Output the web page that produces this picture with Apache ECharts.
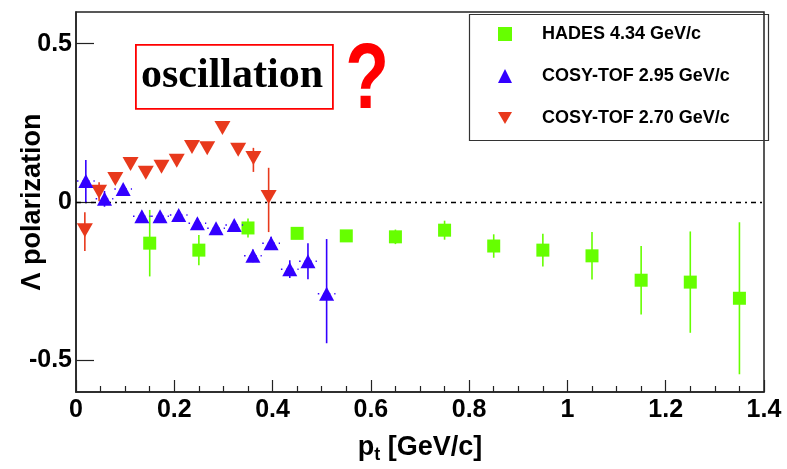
<!DOCTYPE html>
<html>
<head>
<meta charset="utf-8">
<script src="https://cdn.jsdelivr.net/npm/echarts@6/dist/echarts.min.js"></script>
<style>html,body{margin:0;padding:0;background:#fff}#c{width:787px;height:469px}</style>
</head>
<body>
<div id="c"></div>
<script>
// ---- data ----
const hadesX = [0.15, 0.25, 0.35, 0.45, 0.55, 0.65, 0.75, 0.85, 0.95, 1.05, 1.15, 1.25, 1.35];
const hadesY = [-0.130, -0.152, -0.082, -0.099, -0.107, -0.110, -0.089, -0.139, -0.152, -0.170, -0.247, -0.253, -0.304];
const hadesErr = [0.105, 0.048, 0.030, 0.013, 0.015, 0.023, 0.030, 0.037, 0.052, 0.075, 0.108, 0.160, 0.240];

const cosy295X = [0.020, 0.058, 0.096, 0.134, 0.171, 0.209, 0.247, 0.285, 0.322, 0.360, 0.397, 0.435, 0.472, 0.510];
const cosy295Y = [0.066, 0.010, 0.041, -0.045, -0.045, -0.041, -0.067, -0.083, -0.073, -0.170, -0.130, -0.212, -0.187, -0.290];
const cosy295ErrLo = [0.067, 0.025, 0.015, 0.015, 0.015, 0.015, 0.015, 0.015, 0.015, 0.020, 0.020, 0.028, 0.057, 0.156];
const cosy295ErrHi = [0.067, 0.025, 0.015, 0.015, 0.015, 0.015, 0.015, 0.015, 0.015, 0.020, 0.020, 0.028, 0.057, 0.173];
const cosy295XErr = [0.018, 0.018, 0.018, 0.018, 0.018, 0.018, 0.018, 0.018, 0.018, 0.018, 0.018, 0.018, 0.018, 0.018];

const cosy270X = [0.018, 0.047, 0.080, 0.111, 0.142, 0.174, 0.205, 0.236, 0.267, 0.298, 0.330, 0.361, 0.392];
const cosy270Y = [-0.089, 0.032, 0.073, 0.120, 0.092, 0.111, 0.130, 0.174, 0.170, 0.234, 0.165, 0.139, 0.016];
const cosy270ErrLo = [0.066, 0.030, 0.015, 0.015, 0.015, 0.015, 0.015, 0.015, 0.015, 0.015, 0.015, 0.044, 0.111];
const cosy270ErrHi = [0.057, 0.030, 0.015, 0.015, 0.015, 0.015, 0.015, 0.015, 0.015, 0.015, 0.015, 0.032, 0.092];

const xTicks = {min: 0, max: 1.4, interval: 0.2};
const yRange = {min: -0.6, max: 0.6};
const yTickValues = [-0.5, 0, 0.5];
const zeroLine = [0];

const names = ['HADES 4.34 GeV/c', 'COSY-TOF 2.95 GeV/c', 'COSY-TOF 2.70 GeV/c'];
const colors = {green: '#66ff00', blue: '#3300ff', red: '#e8391c'};

// ---- build ----
const zip = (xs, ys) => xs.map((x, i) => [x, ys[i]]);
const errData = (xs, ys, lo, hi) => xs.map((x, i) => [x, ys[i], lo[i], hi[i]]);

function vErr(color) {
  return function (params, api) {
    const x = api.value(0), y = api.value(1), lo = api.value(2), hi = api.value(3);
    const a = api.coord([x, y - lo]), b = api.coord([x, y + hi]);
    return {type: 'line', shape: {x1: a[0], y1: a[1], x2: b[0], y2: b[1]},
            style: {stroke: color, lineWidth: 1.6}};
  };
}
function hErr(color) {
  return function (params, api) {
    const x = api.value(0), y = api.value(1), d = api.value(2);
    const a = api.coord([x - d, y]), b = api.coord([x + d, y]);
    return {type: 'line', shape: {x1: a[0], y1: a[1], x2: b[0], y2: b[1]},
            style: {stroke: color, lineWidth: 1.5, lineDash: [1.5, 4]}};
  };
}
function zeroRender(params, api) {
  const y = api.value(0);
  const a = api.coord([xTicks.min, y]), b = api.coord([xTicks.max, y]);
  return {type: 'line', shape: {x1: a[0], y1: Math.round(a[1]) + 0.5, x2: b[0], y2: Math.round(b[1]) + 0.5},
          style: {stroke: '#000', lineWidth: 1.6, lineDash: [5, 4, 2, 4]}};
}

const downTri = 'path://M0,0L20,0L10,17Z';

const chart = echarts.init(document.getElementById('c'));
chart.setOption({
  animation: false,
  backgroundColor: '#fff',
  grid: {left: 76, right: 23, top: 12, bottom: 77, outerBoundsMode: 'none', containLabel: false,
         show: true, borderColor: '#222', borderWidth: 1.5},
  xAxis: {
    type: 'value', min: xTicks.min, max: xTicks.max, interval: xTicks.interval,
    axisLine: {onZero: false, lineStyle: {color: '#222', width: 1.5}},
    axisTick: {inside: true, length: 12, lineStyle: {color: '#222', width: 1.2}},
    minorTick: {show: true, splitNumber: 4, length: 6, lineStyle: {color: '#222', width: 1.2}},
    splitLine: {show: false},
    axisLabel: {color: '#000', fontFamily: 'Liberation Sans', fontWeight: 'bold', fontSize: 25, margin: 6,
                formatter: v => String(Math.round(v * 10) / 10)},
    name: '{p|p}{s|t}{p| [GeV/c]}',
    nameLocation: 'middle', nameGap: 42, nameMoveOverlap: false,
    nameTextStyle: {
      rich: {
        p: {fontFamily: 'Liberation Sans', fontWeight: 'bold', fontSize: 27, color: '#000', lineHeight: 30, verticalAlign: 'top'},
        s: {fontFamily: 'Liberation Sans', fontWeight: 'bold', fontSize: 18, color: '#000', lineHeight: 8, verticalAlign: 'bottom'}
      }
    }
  },
  yAxis: {
    type: 'value', min: yRange.min, max: yRange.max,
    axisLine: {onZero: false, lineStyle: {color: '#222', width: 1.5}},
    axisTick: {inside: true, length: 18, customValues: yTickValues, lineStyle: {color: '#222', width: 1.2}},
    splitLine: {show: false},
    axisLabel: {color: '#000', fontFamily: 'Liberation Sans', fontWeight: 'bold', fontSize: 25, margin: 4,
                customValues: yTickValues, formatter: v => String(v)},
    name: 'Λ polarization', nameLocation: 'middle', nameRotate: 90, nameGap: 30, nameMoveOverlap: false,
    nameTextStyle: {fontFamily: 'Liberation Sans', fontWeight: 'bold', fontSize: 27, color: '#000'}
  },
  legend: {
    orient: 'vertical', left: 493, top: 20, itemWidth: 14, itemHeight: 14, itemGap: 24,
    data: names,
    textStyle: {fontFamily: 'Liberation Sans', fontWeight: 'bold', fontSize: 18, color: '#000', padding: [0, 0, 0, 25]}
  },
  graphic: [
    {type: 'rect', left: 467, top: 12, shape: {width: 299, height: 126}, style: {fill: 'none', stroke: '#333', lineWidth: 1.2}, z: 100},
    {type: 'rect', left: 135, top: 44, shape: {width: 197, height: 64}, style: {fill: '#fff', stroke: '#ff0000', lineWidth: 1.8}, z: 100},
    {type: 'text', x: 232, y: 76, style: {text: 'oscillation', fill: '#000', font: 'bold 42px "Liberation Serif"', textAlign: 'center', textVerticalAlign: 'middle'}, z: 101},
    {type: 'text', x: 367, y: 82, scaleX: 0.77, originX: 0, originY: 0,
     style: {text: '?', fill: '#ff0000', font: 'bold 93px "Liberation Sans"', textAlign: 'center', textVerticalAlign: 'middle'}, z: 101}
  ],
  series: [
    {type: 'custom', name: 'zero', renderItem: zeroRender, data: zeroLine.map(v => [v]), z: 1, silent: true, clip: false},
    {type: 'custom', name: 'hadesErr', renderItem: vErr(colors.green), data: errData(hadesX, hadesY, hadesErr, hadesErr), z: 2, silent: true},
    {type: 'scatter', name: names[0], symbol: 'rect', symbolSize: 13, itemStyle: {color: colors.green, opacity: 1}, data: zip(hadesX, hadesY), z: 3},
    {type: 'custom', name: 'c270Err', renderItem: vErr(colors.red), data: errData(cosy270X, cosy270Y, cosy270ErrLo, cosy270ErrHi), z: 4, silent: true},
    {type: 'scatter', name: names[2], symbol: downTri, symbolSize: [16, 14], itemStyle: {color: colors.red, opacity: 1}, data: zip(cosy270X, cosy270Y), z: 5},
    {type: 'custom', name: 'c295XErr', renderItem: hErr(colors.blue), data: cosy295X.map((x, i) => [x, cosy295Y[i], cosy295XErr[i]]), z: 6, silent: true},
    {type: 'custom', name: 'c295Err', renderItem: vErr(colors.blue), data: errData(cosy295X, cosy295Y, cosy295ErrLo, cosy295ErrHi), z: 6, silent: true},
    {type: 'scatter', name: names[1], symbol: 'triangle', symbolSize: [15, 14], itemStyle: {color: colors.blue, opacity: 1}, data: zip(cosy295X, cosy295Y), z: 7}
  ]
});
</script>
</body>
</html>
